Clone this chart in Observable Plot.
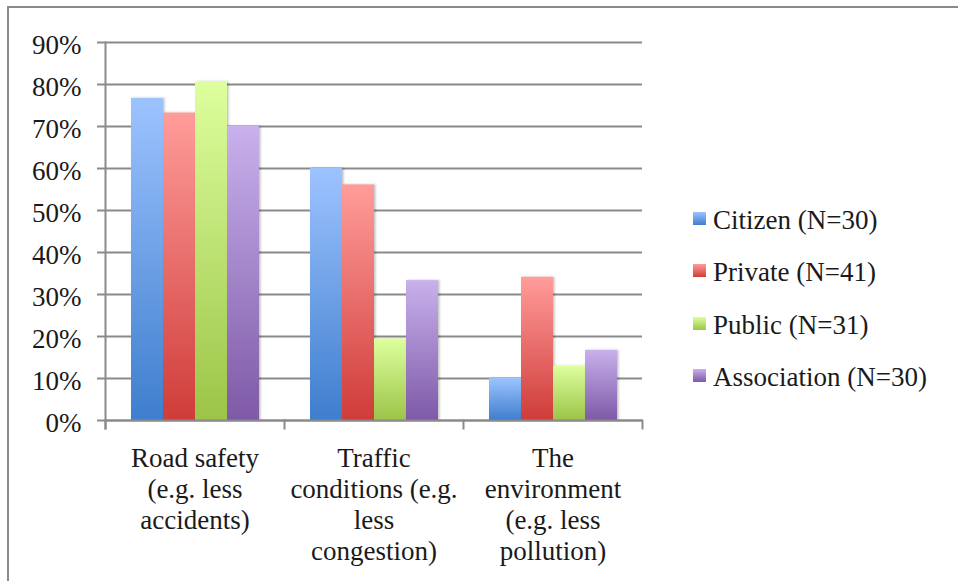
<!DOCTYPE html>
<html>
<head>
<meta charset="utf-8">
<script src="https://cdn.jsdelivr.net/npm/d3@7"></script>
<script src="https://cdn.jsdelivr.net/npm/@observablehq/plot@0.6"></script>
<style>
  html, body { margin: 0; padding: 0; background: #fff; }
  #wrap { position: relative; width: 958px; height: 581px; overflow: hidden; font-family: "Liberation Serif", serif; color: #1a1a1a; }
  #border { position: absolute; left: 7px; top: 6px; width: 1000px; height: 700px; border-top: 2px solid #8a8a8a; border-left: 2px solid #8a8a8a; }
  #chart { position: absolute; left: 0; top: 0; }
  #legend { position: absolute; left: 693px; top: 194px; }
  .row { display: flex; align-items: center; height: 52.5px; font-size: 27px; white-space: nowrap; }
  .sw { width: 13px; height: 13px; margin-right: 7px; position: relative; top: -2px; }
</style>
</head>
<body>
<div id="wrap">
  <div id="border"></div>
  <div id="chart"></div>
  <div id="legend"></div>
</div>
<script>
const categories = [
  "Road safety (e.g. less accidents)",
  "Traffic conditions (e.g. less congestion)",
  "The environment (e.g. less pollution)"
];
const categoryTickLabels = [
  "Road safety\n(e.g. less\naccidents)",
  "Traffic\nconditions (e.g.\nless\ncongestion)",
  "The\nenvironment\n(e.g. less\npollution)"
];
const series = ["Citizen (N=30)", "Private (N=41)", "Public (N=31)", "Association (N=30)"];
const citizenValues = [0.767, 0.600, 0.100];
const privateValues = [0.732, 0.561, 0.341];
const publicValues = [0.806, 0.194, 0.129];
const associationValues = [0.700, 0.333, 0.167];
const yTicks = [0, 0.1, 0.2, 0.3, 0.4, 0.5, 0.6, 0.7, 0.8, 0.9];

const gradientTops = ["#9dc3ff", "#ff9c9a", "#ddff9d", "#c8b1ec"];
const gradientBottoms = ["#3e7ecd", "#cf3c39", "#9cc448", "#7e59a7"];
const gradientIds = ["gCitizen", "gPrivate", "gPublic", "gAssoc"];

const seriesValues = [citizenValues, privateValues, publicValues, associationValues];
const data = [];
categories.forEach((c, i) => {
  series.forEach((s, j) => {
    data.push({category: c, series: s, value: seriesValues[j][i]});
  });
});

const axisGray = "#8a8a8a";
const fmt = d3.format(".0%");

const plot = Plot.plot({
  width: 660,
  height: 581,
  marginLeft: 104,
  marginRight: 17,
  marginTop: 42,
  marginBottom: 161,
  style: {fontFamily: "Liberation Serif, serif", fontSize: "27px", color: "#1a1a1a", background: "transparent", overflow: "visible"},
  fx: {domain: categories, padding: 0, label: null},
  x: {domain: series, paddingInner: 0, paddingOuter: 0.75, axis: null},
  y: {domain: [0, 0.9], axis: null},
  color: {domain: series, range: gradientIds.map(id => `url(#${id})`)},
  marks: [
    Plot.gridY(yTicks, {stroke: axisGray, strokeOpacity: 1, strokeWidth: 2}),
    Plot.axisY(yTicks, {tickSize: 8, tickFormat: () => "", stroke: axisGray, strokeWidth: 2, label: null}),
    Plot.barY(data, {fx: "category", x: "series", y: "value", fill: "series", inset: 0}),
    Plot.frame({anchor: "left", facetAnchor: "left", stroke: axisGray, strokeWidth: 2, insetBottom: -8}),
    Plot.frame({anchor: "left", stroke: axisGray, strokeWidth: 2, insetTop: 378, insetBottom: -8}),
    Plot.frame({anchor: "right", facetAnchor: "right", stroke: axisGray, strokeWidth: 2, insetTop: 378, insetBottom: -8}),
    Plot.ruleY([0], {stroke: axisGray, strokeWidth: 2}),
    Plot.axisY(yTicks, {tickSize: 0, tickPadding: 24, tickFormat: fmt, fontSize: 27, dy: 3, color: "#1a1a1a", label: null}),
    Plot.axisFx({anchor: "bottom", tickSize: 0, tickPadding: 24, fontSize: 27, lineHeight: 1.15, label: null,
      tickFormat: d => categoryTickLabels[categories.indexOf(d)], color: "#1a1a1a"})
  ]
});

const svg = d3.select(plot);
const defs = svg.insert("defs", ":first-child");
gradientIds.forEach((id, i) => {
  const g = defs.append("linearGradient").attr("id", id).attr("x1", 0).attr("y1", 0).attr("x2", 0).attr("y2", 1);
  g.append("stop").attr("offset", "0%").attr("stop-color", gradientTops[i]);
  g.append("stop").attr("offset", "100%").attr("stop-color", gradientBottoms[i]);
});
const f = defs.append("filter").attr("id", "shadow").attr("x", "-10%").attr("y", "-10%").attr("width", "130%").attr("height", "120%");
f.append("feDropShadow").attr("dx", 1.5).attr("dy", 0).attr("stdDeviation", 1.2).attr("flood-color", "#000").attr("flood-opacity", 0.25);
svg.selectAll("g[aria-label='bar'] rect").attr("filter", "url(#shadow)");

document.getElementById("chart").appendChild(plot);

const legend = d3.select("#legend");
series.forEach((s, i) => {
  const row = legend.append("div").attr("class", "row");
  row.append("div").attr("class", "sw")
    .style("background", `linear-gradient(${gradientTops[i]}, ${gradientBottoms[i]})`);
  row.append("span").text(s);
});
</script>
</body>
</html>
